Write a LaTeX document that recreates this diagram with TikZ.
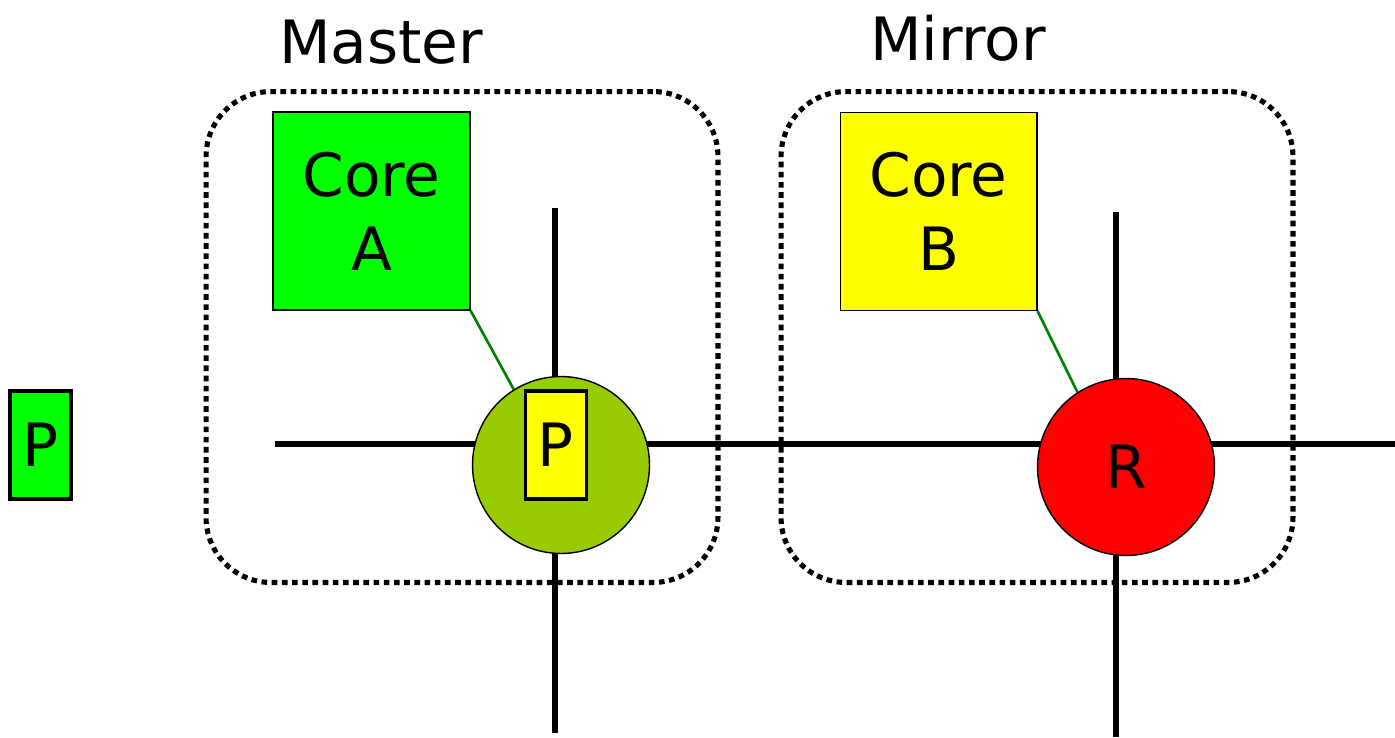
\documentclass[tikz,border=0pt]{standalone}
\usepackage{fontspec}
\setmainfont{DejaVu Sans}
\usepackage{tikz}
\usetikzlibrary{positioning}

\newcommand{\bigtext}{\fontsize{34}{42}\selectfont}

\definecolor{coregreen}{RGB}{0,255,0}
\definecolor{coreyellow}{RGB}{255,255,0}
\definecolor{olivefill}{RGB}{153,204,0}
\definecolor{tiegreen}{RGB}{0,128,0}

\tikzset{
  wire/.style={line width=3.3pt},
  tie/.style={line width=1.5pt, draw=tiegreen},
  sidebox/.style={draw, line width=2.9pt, dash pattern=on 3.2pt off 2.6pt,
    rounded corners=1.3cm, minimum width=10.24cm, minimum height=9.82cm},
  core/.style={draw, line width=0.6pt, minimum width=3.94cm,
    minimum height=3.96cm, align=center, font=\bigtext},
  port/.style={draw, line width=1.8pt, minimum width=1.22cm,
    minimum height=2.16cm, inner sep=0pt, font=\bigtext},
  router/.style={draw, circle, line width=0.8pt, minimum size=3.54cm,
    inner sep=0pt, font=\bigtext},
}

\begin{document}
\begin{tikzpicture}[x=0.02cm, y=-0.02cm]
    \useasboundingbox (0,0) rectangle (1395,737);

    % the two sides
    \node (master) [sidebox] at (462,337) {};
    \node (mirror) [sidebox] at (1037,337) {};
    \node (masterlbl) [font=\bigtext] at (381,42) {Master};
    \node (mirrorlbl) [font=\bigtext] at (958,38) {Mirror};

    % network wires
    \coordinate (hl) at (275,444);
    \coordinate (hr) at (1395,444);
    \coordinate (vat) at (555,208);
    \coordinate (vab) at (555,733);
    \coordinate (vbt) at (1116,212);
    \coordinate (vbb) at (1116,737);
    \draw[wire] (hl) -- (hr);
    \draw[wire] (vat) -- (vab);
    \draw[wire] (vbt) -- (vbb);

    % routers and cores
    \node (routerA) [router, fill=olivefill] at (561,465) {};
    \node (portA) [port, fill=coreyellow] at (556,445) {P};
    \node (routerB) [router, fill=red] at (1126,467) {R};
    \node (coreA) [core, fill=coregreen] at (371.5,211) {Core\\A};
    \node (coreB) [core, fill=coreyellow] at (938.5,211.5) {Core\\B};
    \node (portL) [port, fill=coregreen] at (40.5,445) {P};

    \draw[tie] (coreA.south east) -- (routerA.122);
    \draw[tie] (coreB.south east) -- (routerB.123);
\end{tikzpicture}
\end{document}
